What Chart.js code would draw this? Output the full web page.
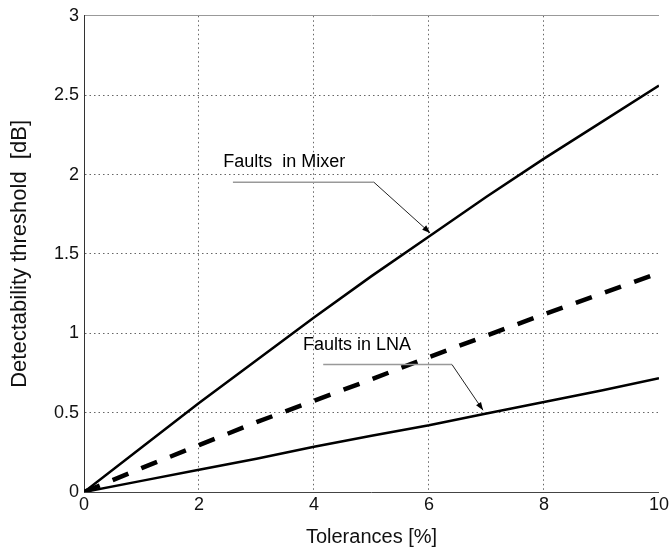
<!DOCTYPE html>
<html>
<head>
<meta charset="utf-8">
<script src="https://cdn.jsdelivr.net/npm/chart.js@4/dist/chart.umd.min.js"></script>
<style>
    html, body { margin: 0; padding: 0; background: #fff; }
    #wrap { width: 671px; height: 550px; }
</style>
</head>
<body>
<div id="wrap"><canvas id="thresholdChart" width="671" height="550"></canvas></div>
<script>
// values
const tolerances = [0, 1, 2, 3, 4, 5, 6, 7, 8, 9, 10];
const mixerFaults = [0, 0.28, 0.56, 0.83, 1.10, 1.36, 1.61, 1.86, 2.10, 2.33, 2.56];
const dashedCurve = [0, 0.15, 0.295, 0.44, 0.575, 0.71, 0.85, 0.985, 1.12, 1.25, 1.38];
const lnaFaults = [0, 0.07, 0.14, 0.21, 0.285, 0.355, 0.42, 0.495, 0.567, 0.64, 0.717];

const xTicks = [0, 2, 4, 6, 8, 10];
const yTicks = [0, 0.5, 1, 1.5, 2, 2.5, 3];

// annotation text and leader lines, in data units
const callouts = [
    { text: "Faults  in Mixer", at: [2.42, 2.078], leader: [[2.59, 1.952], [5.04, 1.952]], tip: [6.02, 1.632] },
    { text: "Faults in LNA", at: [3.81, 0.923], leader: [[4.16, 0.803], [6.40, 0.803]], tip: [6.94, 0.515] }
];

const FONT = "'Liberation Sans', Arial, Helvetica, sans-serif";

function toPoints(values) {
    return tolerances.map((t, i) => ({ x: t, y: values[i] }));
}

const calloutPlugin = {
    id: "callouts",
    afterDatasetsDraw(chart) {
        const { ctx, scales: { x, y } } = chart;
        ctx.save();
        callouts.forEach(c => {
            ctx.font = "18px " + FONT;
            ctx.fillStyle = "#000";
            ctx.textAlign = "left";
            ctx.textBaseline = "middle";
            ctx.fillText(c.text, x.getPixelForValue(c.at[0]), y.getPixelForValue(c.at[1]));

            const [a, b] = c.leader;
            const ax = x.getPixelForValue(a[0]), ay = y.getPixelForValue(a[1]);
            const bx = x.getPixelForValue(b[0]), by = y.getPixelForValue(b[1]);
            const tx = x.getPixelForValue(c.tip[0]), ty = y.getPixelForValue(c.tip[1]);

            ctx.strokeStyle = "#999";
            ctx.lineWidth = 1.5;
            ctx.beginPath();
            ctx.moveTo(ax, ay);
            ctx.lineTo(bx, by);
            ctx.stroke();

            ctx.strokeStyle = "#222";
            ctx.lineWidth = 1;
            ctx.beginPath();
            ctx.moveTo(bx, by);
            ctx.lineTo(tx, ty);
            ctx.stroke();

            // arrow head
            const ang = Math.atan2(ty - by, tx - bx);
            const len = 8, half = 3;
            ctx.fillStyle = "#000";
            ctx.beginPath();
            ctx.moveTo(tx, ty);
            ctx.lineTo(tx - len * Math.cos(ang) + half * Math.sin(ang), ty - len * Math.sin(ang) - half * Math.cos(ang));
            ctx.lineTo(tx - len * Math.cos(ang) - half * Math.sin(ang), ty - len * Math.sin(ang) + half * Math.cos(ang));
            ctx.closePath();
            ctx.fill();
        });
        ctx.restore();
    }
};

function gridColor(last) {
    return c => (c.tick && (c.tick.value === 0 || c.tick.value === last)) ? "rgba(0,0,0,0)" : "#666";
}

window.addEventListener("DOMContentLoaded", () => {
    const ctx = document.getElementById("thresholdChart").getContext("2d");
    new Chart(ctx, {
        type: "line",
        data: {
            datasets: [
                { label: "Mixer", data: toPoints(mixerFaults), borderColor: "#000", borderWidth: 2.5, pointRadius: 0, tension: 0 },
                { label: "Dashed", data: toPoints(dashedCurve), borderColor: "#000", borderWidth: 4.5, borderDash: [17, 14], pointRadius: 0, tension: 0 },
                { label: "LNA", data: toPoints(lnaFaults), borderColor: "#000", borderWidth: 2.5, pointRadius: 0, tension: 0 }
            ]
        },
        options: {
            responsive: false,
            animation: false,
            devicePixelRatio: 1,
            layout: { padding: { left: 0, right: 12, top: 14, bottom: 0 } },
            plugins: {
                legend: { display: false },
                tooltip: { enabled: false }
            },
            scales: {
                x: {
                    type: "linear",
                    min: 0,
                    max: 10,
                    afterBuildTicks: s => { s.ticks = xTicks.map(v => ({ value: v })); },
                    afterFit: s => { s.height = 58; },
                    ticks: { color: "#111", padding: 2, font: { family: FONT, size: 18 }, callback: v => String(v) },
                    grid: { color: gridColor(10), lineWidth: 1, drawTicks: false },
                    border: { display: true, color: "#444", width: 1, dash: [1.5, 3] },
                    title: { display: true, text: "Tolerances [%]", color: "#111", font: { family: FONT, size: 20 }, padding: { top: 0, bottom: 1 } }
                },
                xTop: {
                    type: "linear",
                    position: "top",
                    min: 0,
                    max: 10,
                    afterFit: s => { s.height = 0; },
                    ticks: { display: false },
                    grid: { display: false, drawTicks: false },
                    border: { display: true, color: "#999", width: 1 }
                },
                y: {
                    min: 0,
                    max: 3,
                    afterBuildTicks: s => { s.ticks = yTicks.map(v => ({ value: v })); },
                    afterFit: s => { s.width = 84; },
                    ticks: { color: "#111", padding: 5, font: { family: FONT, size: 18 }, callback: v => String(v) },
                    grid: { color: gridColor(3), lineWidth: 1, drawTicks: false },
                    border: { display: true, color: "#333", width: 1, dash: [1.5, 3] },
                    title: { display: true, text: "Detectability threshold  [dB]", color: "#111", font: { family: FONT, size: 22 }, padding: { top: 7, bottom: 0 } }
                }
            }
        },
        plugins: [calloutPlugin]
    });
});
</script>
</body>
</html>
